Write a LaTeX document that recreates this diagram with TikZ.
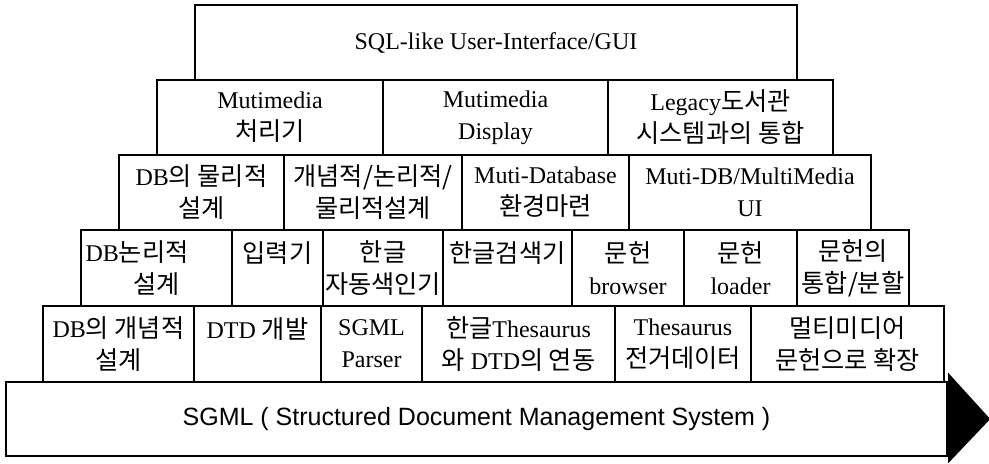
\documentclass[tikz,border=0pt]{standalone}
\usepackage{fontspec}
\setmainfont{Liberation Serif}
\newfontfamily\krfont[Scale=1.05]{Noto Sans CJK KR}
\newfontfamily\barfont{Liberation Sans}
\newcommand{\hgl}[1]{{\krfont #1}}

\begin{document}
\begin{tikzpicture}[x=0.5pt,y=-0.5pt]
    \tikzstyle{cell}=[draw,line width=1.2pt,rectangle,inner sep=0pt,minimum height=37.75pt,align=center,font=\fontsize{12}{16}\selectfont]
    \useasboundingbox (0,0) rectangle (989,463);
    % top layer
    \node[cell,minimum width=301pt] (gui) at (496,42.5) {SQL-like User-Interface/GUI};
    % second layer
    \node[cell,minimum width=113pt] (mm_proc) at (270,117.5) {Mutimedia\\\hgl{처리기}};
    \node[cell,minimum width=112.5pt] (mm_disp) at (495.5,117.5) {Mutimedia\\Display};
    \node[cell,minimum width=112.5pt] (legacy) at (720.5,117.5) {Legacy\hgl{도서관}\\\hgl{시스템과의 통합}};
    % third layer
    \node[cell,minimum width=82.5pt] (phys) at (201.5,192.5) {DB\hgl{의 물리적}\\\hgl{설계}};
    \node[cell,minimum width=89pt] (concept) at (373,192.5) {\hgl{개념적/논리적/}\\\hgl{물리적설계}};
    \node[cell,minimum width=83.5pt] (multidb) at (545.5,192.5) {Muti-Database\\\hgl{환경마련}};
    \node[cell,minimum width=121pt] (mdb_ui) at (750,192.5) {Muti-DB/MultiMedia\\UI};
    % fourth layer
    \node[cell,minimum width=75.5pt,text width=71pt] (logic) at (156.5,268) {\makebox[\linewidth][l]{DB\hgl{논리적}}\\\hgl{설계}};
    \node[cell,minimum width=45.5pt] (input) at (277.5,268) {\hgl{입력기}\\~};
    \node[cell,minimum width=60pt] (indexer) at (383,268) {\hgl{한글}\\\hgl{자동색인기}};
    \node[cell,minimum width=64.5pt] (search) at (507.5,268) {\hgl{한글검색기}\\~};
    \node[cell,minimum width=56pt] (browser) at (628,268) {\hgl{문헌}\\browser};
    \node[cell,minimum width=56.5pt] (loader) at (740.5,268) {\hgl{문헌}\\loader};
    \node[cell,minimum width=56pt] (merge) at (853,268) {\hgl{문헌의}\\\hgl{통합/분할}};
    % fifth layer
    \node[cell,minimum width=75.5pt] (concdb) at (118.5,344) {DB\hgl{의 개념적}\\\hgl{설계}};
    \node[cell,minimum width=63.5pt] (dtd) at (257.5,344) {DTD \hgl{개발}\\~};
    \node[cell,minimum width=50.5pt] (parser) at (371.5,344) {SGML\\Parser};
    \node[cell,minimum width=96.5pt] (thes_dtd) at (518.5,344) {\hgl{한글}Thesaurus\\\hgl{와} DTD\hgl{의 연동}};
    \node[cell,minimum width=68pt] (authority) at (683,344) {Thesaurus\\\hgl{전거데이터}};
    \node[cell,minimum width=96.5pt] (extend) at (847.5,344) {\hgl{멀티미디어}\\\hgl{문헌으로 확장}};
    % base
    \node[cell,minimum width=470.5pt,minimum height=37pt,font=\barfont\fontsize{12.5}{15}\selectfont] (sgml) at (476.5,419) {SGML ( Structured Document Management System )};
    \fill ([yshift=4pt]sgml.north east) -- ([xshift=21pt]sgml.east) -- ([yshift=-3pt]sgml.south east) -- cycle;
\end{tikzpicture}
\end{document}
